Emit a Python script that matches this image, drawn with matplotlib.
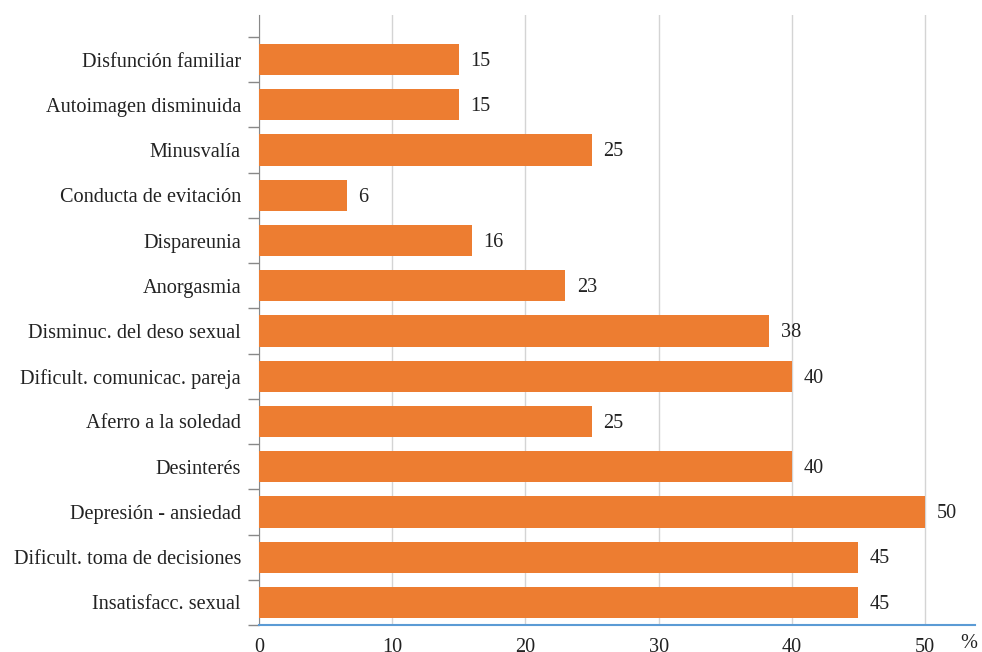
import matplotlib
matplotlib.use("Agg")
import matplotlib.pyplot as plt
import numpy as np

plt.rcParams['font.family'] = ['Liberation Serif', 'DejaVu Serif']

# datos (de arriba hacia abajo)
categorias = [
    "Disfunción familiar",
    "Autoimagen disminuida",
    "Minusvalía",
    "Conducta de evitación",
    "Dispareunia",
    "Anorgasmia",
    "Disminuc. del deso sexual",
    "Dificult. comunicac. pareja",
    "Aferro a la soledad",
    "Desinterés",
    "Depresión - ansiedad",
    "Dificult. toma de decisiones",
    "Insatisfacc. sexual",
]
valores = [15, 15, 25, 6.6, 16, 23, 38.3, 40, 25, 40, 50, 45, 45]
etiquetas = ["15", "15", "25", "6", "16", "23", "38", "40", "25", "40", "50", "45", "45"]
ticks_x = [0, 10, 20, 30, 40, 50]

FS = 14.6

fig = plt.figure(figsize=(9.82, 6.52), dpi=100)
ax = fig.add_axes([259 / 982, 1 - 625 / 652, (975 - 259) / 982, (625 - 15) / 652])

n = len(categorias)
pos = np.arange(n)[::-1]
ax.barh(pos, valores, height=0.69, color='#ED7D31', zorder=3)

for p, v, t in zip(pos, valores, etiquetas):
    ax.text(v + 0.85, p - 0.04, t, va='center', ha='left', fontsize=FS, color='#222222')

ax.set_xlim(0, 53.75)
ax.set_ylim(-0.5, n - 0.5 + 22 / 45.2)

# ticks del eje y en los bordes de las categorias
ax.set_yticks(np.arange(n + 1) - 0.5)
ax.set_yticklabels([])
ax.set_yticks(pos, minor=True)
ax.set_yticklabels(categorias, minor=True, fontsize=FS, color='#222222')
ax.tick_params(axis='y', which='major', length=8, color='#888888', width=1)
ax.tick_params(axis='y', which='minor', length=0, pad=13)

ax.set_xticks(ticks_x)
ax.set_xticklabels([str(t) for t in ticks_x], fontsize=FS, color='#222222')
ax.tick_params(axis='x', length=0, pad=9)
ax.xaxis.grid(True, color='#d4d4d4', linewidth=1, zorder=0)

for s in ['top', 'right']:
    ax.spines[s].set_visible(False)
ax.spines['left'].set_color('#888888')
ax.spines['bottom'].set_color('#5B9BD5')
ax.spines['bottom'].set_linewidth(1.5)

fig.text(969 / 982, 1 - 644 / 652, "%", ha='center', va='center', fontsize=FS, color='#222222')

fig.savefig("out.png", dpi=100)
